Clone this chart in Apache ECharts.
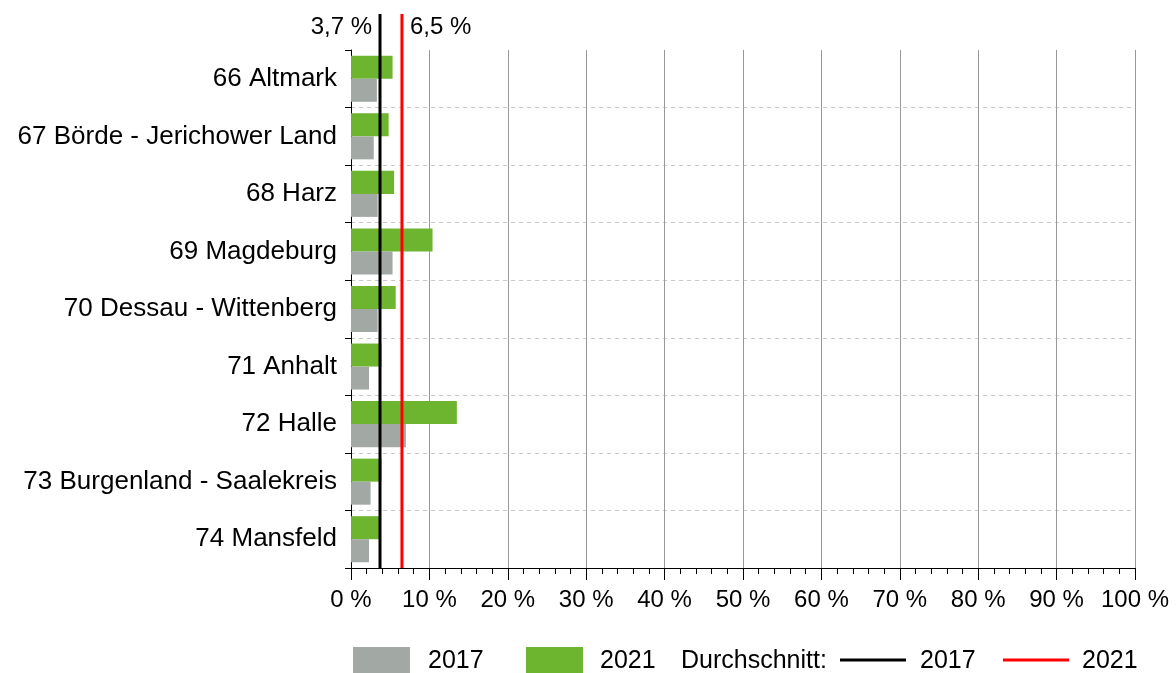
<!DOCTYPE html>
<html>
<head>
<meta charset="utf-8">
<script src="https://cdn.jsdelivr.net/npm/echarts@6/dist/echarts.min.js"></script>
<style>
  html, body { margin: 0; padding: 0; background: #fff; }
  #main { width: 1176px; height: 673px; }
</style>
</head>
<body>
<div id="main"></div>
<script>
// Daten
const regions = [
  '66 Altmark', '67 Börde - Jerichower Land', '68 Harz', '69 Magdeburg',
  '70 Dessau - Wittenberg', '71 Anhalt', '72 Halle',
  '73 Burgenland - Saalekreis', '74 Mansfeld'
];
const values2017 = [3.3, 2.9, 3.4, 5.3, 3.4, 2.3, 7.0, 2.5, 2.3];
const values2021 = [5.3, 4.8, 5.5, 10.4, 5.7, 3.9, 13.5, 3.9, 3.7];
const avg2017 = 3.7;
const avg2021 = 6.5;
const avgLabels = ['3,7 %', '6,5 %'];

const FONT = 'Liberation Sans, Arial, sans-serif';
const GREY = '#a2a9a5';
const GREEN = '#6db42f';

let myChart = echarts.init(document.getElementById('main'));

function avgLine(name, val, color, label, pos) {
  return {
    name: name,
    type: 'line',
    xAxisIndex: 1,
    yAxisIndex: 1,
    z: 5,
    symbol: 'circle',
    symbolSize: 0,
    lineStyle: { color: color, width: 3 },
    itemStyle: { color: color },
    animation: false,
    data: [
      [val, 0],
      {
        value: [val, 1],
        label: {
          show: true,
          position: pos,
          distance: 8,
          offset: [0, 13],
          formatter: label,
          color: '#000',
          fontSize: 24,
          fontFamily: FONT
        }
      }
    ]
  };
}

let option = {
  animation: false,
  grid: [
    { left: 351, right: 41, top: 50, bottom: 105 },
    { left: 351, right: 41, top: 14, bottom: 105 }
  ],
  xAxis: [
    {
      type: 'value',
      gridIndex: 0,
      min: 0,
      max: 100,
      interval: 10,
      axisLine: { show: true, lineStyle: { color: '#000', width: 1 } },
      axisTick: { show: true, length: 12, lineStyle: { color: '#000' } },
      minorTick: { show: true, splitNumber: 5, length: 6, lineStyle: { color: '#000' } },
      splitLine: { show: true, lineStyle: { color: '#999', width: 1 } },
      axisLabel: {
        formatter: '{value} %',
        fontSize: 24,
        fontFamily: FONT,
        color: '#000',
        margin: 20
      }
    },
    {
      type: 'value',
      gridIndex: 1,
      min: 0,
      max: 100,
      show: false
    }
  ],
  yAxis: [
    {
      type: 'category',
      gridIndex: 0,
      inverse: true,
      data: regions,
      axisLine: { show: true, lineStyle: { color: '#000', width: 1 } },
      axisTick: { show: true, length: 6, lineStyle: { color: '#000' } },
      splitLine: {
        show: true,
        interval: function (idx) { return idx > 0; },
        lineStyle: { color: '#c8c8c8', type: [4, 4], width: 1 }
      },
      axisLabel: {
        fontSize: 26,
        fontFamily: FONT,
        color: '#000',
        margin: 14
      }
    },
    {
      type: 'value',
      gridIndex: 1,
      min: 0,
      max: 1,
      show: false
    }
  ],
  series: [
    {
      name: '2021',
      type: 'bar',
      data: values2021,
      itemStyle: { color: GREEN },
      barGap: '0%',
      barCategoryGap: '20%'
    },
    {
      name: '2017',
      type: 'bar',
      data: values2017,
      itemStyle: { color: GREY },
      barGap: '0%',
      barCategoryGap: '20%'
    },
    avgLine('Durchschnitt 2017', avg2017, '#000', avgLabels[0], 'left'),
    avgLine('Durchschnitt 2021', avg2021, '#ff0000', avgLabels[1], 'right')
  ],
  // Legende
  graphic: [
    { type: 'rect', shape: { x: 353, y: 647, width: 57, height: 27 }, style: { fill: GREY } },
    { type: 'text', x: 428, y: 661, style: { text: '2017', fontSize: 25, fontFamily: FONT, fill: '#000', verticalAlign: 'middle' } },
    { type: 'rect', shape: { x: 526, y: 647, width: 57, height: 27 }, style: { fill: GREEN } },
    { type: 'text', x: 600, y: 661, style: { text: '2021', fontSize: 25, fontFamily: FONT, fill: '#000', verticalAlign: 'middle' } },
    { type: 'text', x: 681, y: 661, style: { text: 'Durchschnitt:', fontSize: 25, fontFamily: FONT, fill: '#000', verticalAlign: 'middle' } },
    { type: 'line', shape: { x1: 840, y1: 660, x2: 906, y2: 660 }, style: { stroke: '#000', lineWidth: 3 } },
    { type: 'text', x: 920, y: 661, style: { text: '2017', fontSize: 25, fontFamily: FONT, fill: '#000', verticalAlign: 'middle' } },
    { type: 'line', shape: { x1: 1003, y1: 660, x2: 1069, y2: 660 }, style: { stroke: '#ff0000', lineWidth: 3 } },
    { type: 'text', x: 1082, y: 661, style: { text: '2021', fontSize: 25, fontFamily: FONT, fill: '#000', verticalAlign: 'middle' } }
  ]
};

myChart.setOption(option);
window.onresize = myChart.resize;
</script>
</body>
</html>
